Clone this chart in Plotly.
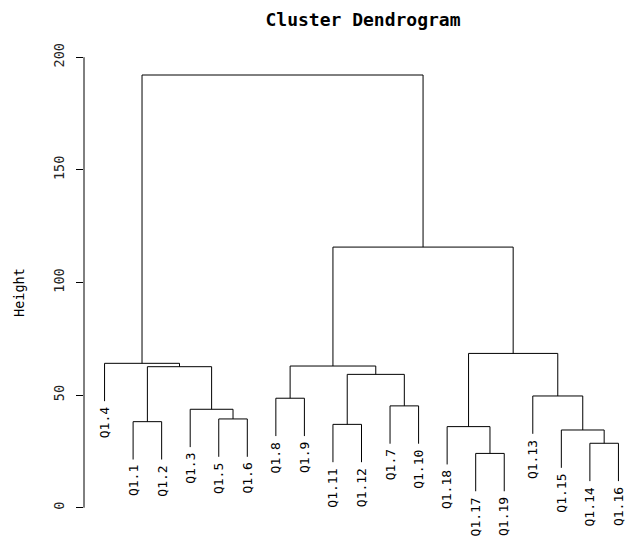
import plotly.graph_objects as go

# ---- data ----
leaf_order = ["Q1.4", "Q1.1", "Q1.2", "Q1.3", "Q1.5", "Q1.6", "Q1.8", "Q1.9",
              "Q1.11", "Q1.12", "Q1.7", "Q1.10", "Q1.18", "Q1.17", "Q1.19",
              "Q1.13", "Q1.15", "Q1.14", "Q1.16"]
# merges: a child is a leaf name or the 1-based index of an earlier merge
merge_left = ["Q1.17", "Q1.14", "Q1.15", "Q1.18", "Q1.11", "Q1.1", "Q1.5", "Q1.3",
              "Q1.7", "Q1.8", "Q1.13", 5, 6, 10, "Q1.4", 4, 14, 15]
merge_right = ["Q1.19", "Q1.16", 2, 1, "Q1.12", "Q1.2", "Q1.6", 7,
               "Q1.10", "Q1.9", 3, 9, 8, 12, 13, 11, 16, 17]
merge_height = [24.1, 28.6, 34.5, 36.0, 37.0, 38.2, 39.4, 43.7,
                45.2, 48.6, 49.6, 59.2, 62.6, 62.9, 64.1, 68.5, 115.7, 192.1]
y_ticks = [0, 50, 100, 150, 200]
hang_frac = 0.1

# ---- layout of the tree ----
leaf_x = {name: i + 1 for i, name in enumerate(leaf_order)}
hang = hang_frac * (max(merge_height) - min(merge_height))
node_x, node_h = {}, {}
xs, ys = [], []
leaf_bottom = {}
for k, (a, b, h) in enumerate(zip(merge_left, merge_right, merge_height), start=1):
    pts = []
    for c in (a, b):
        if isinstance(c, str):
            cx, ch = leaf_x[c], h - hang
            leaf_bottom[c] = ch
        else:
            cx, ch = node_x[c], node_h[c]
        pts.append((cx, ch))
    (xa, ha), (xb, hb) = pts
    xs += [xa, xa, xb, xb, None]
    ys += [ha, h, h, hb, None]
    node_x[k] = (xa + xb) / 2
    node_h[k] = h

fig = go.Figure()
fig.add_trace(go.Scatter(x=xs, y=ys, mode="lines",
                         line=dict(color="black", width=1),
                         hoverinfo="skip", showlegend=False))

FONT = "DejaVu Sans Mono"
for name in leaf_order:
    fig.add_annotation(x=leaf_x[name], y=leaf_bottom[name], text=name,
                       textangle=-90, xanchor="center", yanchor="top",
                       yshift=-5, showarrow=False, borderpad=0,
                       font=dict(family=FONT, size=13, color="black"))

fig.add_shape(type="line", xref="paper", yref="y", x0=0, x1=0,
              y0=min(y_ticks), y1=max(y_ticks),
              line=dict(color="black", width=1))

fig.add_annotation(text="Height", xref="paper", yref="paper",
                   x=(19 - 84) / 543, y=(520 - 293) / 470,
                   textangle=-90, showarrow=False,
                   xanchor="center", yanchor="middle",
                   font=dict(family=FONT, size=13.5, color="black"))

fig.update_layout(
    width=627, height=543,
    margin=dict(l=84, r=0, t=50, b=23),
    paper_bgcolor="white", plot_bgcolor="white",
    title=dict(text="<b>Cluster Dendrogram</b>", x=363 / 627,
               xref="container", xanchor="center", y=1 - 20 / 543, yanchor="middle",
               font=dict(family=FONT, size=18, color="black")),
    xaxis=dict(range=[0.28, 19.3], showgrid=False, zeroline=False,
               showline=False, showticklabels=False, ticks=""),
    yaxis=dict(range=[-5.46, 203.2], showgrid=False, zeroline=False,
               showline=False, tickvals=y_ticks, ticks="outside", ticklen=7,
               tickcolor="black", tickwidth=1, tickangle=-90,
               ticklabelstandoff=7,
               tickfont=dict(family=FONT, size=13.5, color="#222")),
)

fig.write_html("out.html")
